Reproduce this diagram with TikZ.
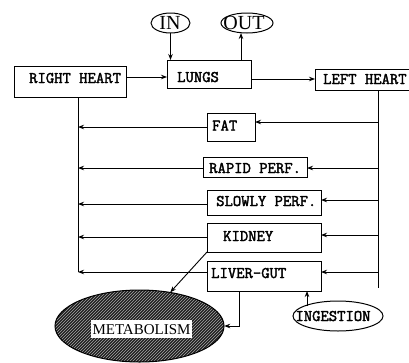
\documentclass[tikz,border=0pt]{standalone}
\usepackage{fontspec}
\newfontfamily\serifA{Liberation Serif}
\newfontfamily\boxf{Latin Modern Mono}[FakeBold=2.2]
\usetikzlibrary{arrows.meta,shapes.geometric,fit,patterns}
\begin{document}
\begin{tikzpicture}[x=1pt,y=-1pt,
  box/.style={draw, line width=1pt, inner sep=0pt, outer sep=0pt},
  lbl/.style={font=\boxf\fontsize{16.2}{16}\selectfont, inner sep=0pt, anchor=base west},
  oval/.style={draw, ellipse, line width=1pt, inner sep=0pt, outer sep=0pt},
  big/.style={font=\serifA\fontsize{20}{20}\selectfont, inner sep=0pt, anchor=base},
  arr/.style={-{Stealth[length=6pt,width=4.5pt]}, line width=0.9pt},
  ln/.style={line width=0.9pt}]
\useasboundingbox (0,0) rectangle (409,362);
% boxes
\node[box, fit={(14,66) (126,97)}] (rh) {};
\node[box, fit={(167,60) (251,88)}] (lu) {};
\node[box, fit={(315,69) (412,90)}] (lh) {};
\node[box, fit={(207,113) (255,141)}] (fat) {};
\node[box, fit={(203,157) (307,177)}] (rap) {};
\node[box, fit={(207,190) (321,215)}] (slo) {};
\node[box, fit={(207,223) (321,252)}] (kid) {};
\node[box, fit={(207,261) (321,291)}] (liv) {};
% box labels
\node[lbl] (rht) at (29,83) {RIGHT HEART};
\node[lbl] (lut) at (177,82) {LUNGS};
\node[lbl] (lht) at (323,84) {LEFT HEART};
\node[lbl] (fatt) at (212,130.5) {FAT};
\node[lbl] (rapt) at (209,173) {RAPID PERF.};
\node[lbl] (slot) at (216,206) {SLOWLY PERF.};
\node[lbl] (kidt) at (223,241) {KIDNEY};
\node[lbl] (livt) at (211,278) {LIVER-GUT};
% ovals
\node[oval, minimum width=39pt, minimum height=20pt] (in) at (170.5,23) {};
\node[big] (int) at (170,29.6) {IN};
\node[oval, minimum width=52pt, minimum height=20pt] (out) at (247,23) {};
\node[big] (outt) at (244,29.6) {OUT};
\node[oval, minimum width=90pt, minimum height=30pt] (ing) at (338,316) {};
\node[lbl, anchor=base] (ingt) at (333,321) {INGESTION};
\node[ellipse, minimum width=169pt, minimum height=72pt, inner sep=0pt, fill=black!88,
  postaction={pattern=north east lines, pattern color=white!65!black},
  postaction={draw, line width=1pt}] (met) at (139.5,326) {};
\node[fill=white, font=\serifA\fontsize{15}{15}\selectfont, inner xsep=2pt, inner ysep=4pt,
  text height=10pt, text depth=0pt] (mett) at (141.5,329) {METABOLISM};
% trunks
\coordinate (lt) at (78,272);
\coordinate (rt) at (378,288);
\draw[ln] (rh.south -| lt) -- (lt);
\draw[ln] (lh.south -| rt) -- (rt);
% main flow
\draw[arr] (rh.east |- 0,77) -- (lu.west |- 0,77);
\draw[arr] (lu.east |- 0,79) -- (lh.west |- 0,79);
\draw[arr] (in.south) -- (in.south |- lu.north);
\draw[arr] (lu.north -| 241,0) -- (out.south -| 241,0);
% organ arrows
\draw[arr] (rt |- 0,122) -- (fat.east |- 0,122);
\draw[arr] (fat.west |- 0,127) -- (lt |- 0,127);
\draw[arr] (rt |- 0,168) -- (rap.east |- 0,168);
\draw[arr] (rap.west |- 0,168) -- (lt |- 0,168);
\draw[arr] (rt |- 0,200) -- (slo.east |- 0,200);
\draw[arr] (slo.west |- 0,204) -- (lt |- 0,204);
\draw[arr] (rt |- 0,235) -- (kid.east |- 0,235);
\draw[arr] (kid.west |- 0,237) -- (lt |- 0,237);
\draw[arr] (rt |- 0,272) -- (liv.east |- 0,272);
\draw[arr] (liv.west |- 0,272) -- (lt);
% metabolism and ingestion
\draw[arr] (kid.south west) -- (met);
\draw[arr] (liv.south -| 239,0) |- (met.east);
\coordinate (ingtop) at (307,306);
\draw[arr] (ingtop) -- (liv.south -| ingtop);
\end{tikzpicture}
\end{document}
